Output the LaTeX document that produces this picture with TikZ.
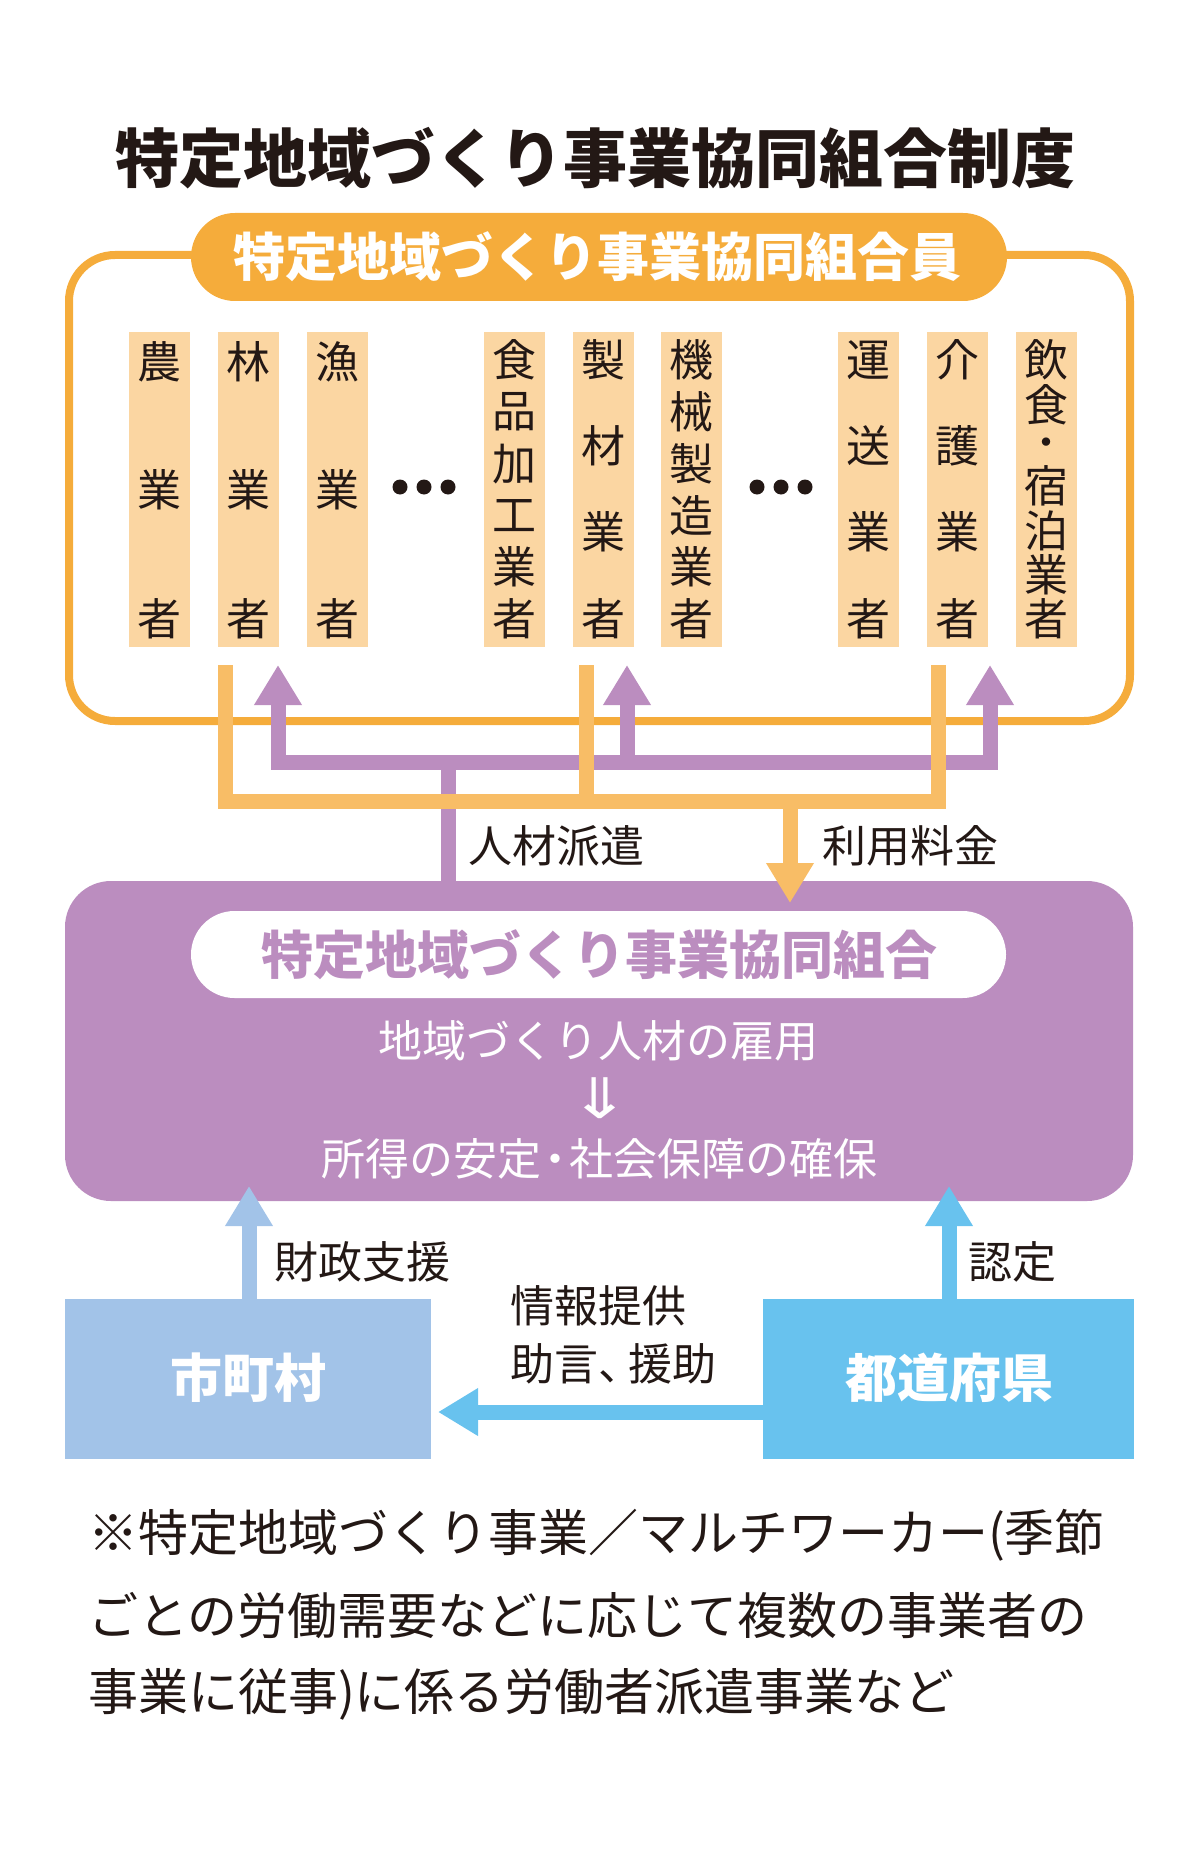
\documentclass[tikz,border=0pt]{standalone}
\usepackage{fontspec}
\setmainfont{Noto Sans CJK JP}
\newfontfamily\symfont{DejaVu Sans}
\usetikzlibrary{arrows.meta}
\definecolor{frameorange}{HTML}{F5AC3B}
\definecolor{pale}{HTML}{FBD6A2}
\definecolor{arroworange}{HTML}{F8BD66}
\definecolor{purp}{HTML}{BB8DBF}
\definecolor{lightblue}{HTML}{A2C3E8}
\definecolor{skyblue}{HTML}{68C2EE}
\definecolor{ink}{HTML}{231815}
\newcommand\fs[1]{\fontsize{#1pt}{#1pt}\selectfont}
\begin{document}
\begin{tikzpicture}[x=1pt,y=-1pt,
  every node/.style={inner sep=0pt,outer sep=0pt},
  colbox/.style={rectangle,fill=pale,minimum width=61pt,minimum height=315pt},
  coltext/.style={font=\fs{44},text=ink},
  lbl/.style={font=\fs{44},text=ink},
  boxtext/.style={font=\fs{44},text=white},
  flow/.style={line width=15pt,line cap=butt,line join=miter},
  tipup/.style={-{Triangle[width=45pt,length=40pt]}},
  dot/.style={circle,fill=ink,minimum size=15pt}
]
\useasboundingbox (0,0) rectangle (1200,1859);

% title
\node[font=\bfseries\fs{64},text=ink] (title) at (595,158) {特定地域づくり事業協同組合制度};

% members frame
\draw[frameorange,line width=8pt,rounded corners=46pt] (69,255) rectangle (1130,721);
\node[fill=frameorange,rounded corners=44pt,minimum width=816pt,minimum height=88pt] (memberpill) at (599,257) {};
\node[font=\bfseries\fs{52},text=white] (membertitle) at (597,257) {特定地域づくり事業協同組合員};

% columns
\node[colbox] (c0) at (159.5,489.5) {};
\node[colbox] (c1) at (248.5,489.5) {};
\node[colbox] (c2) at (337,489.5) {};
\node[colbox] (c4) at (514,489.5) {};
\node[colbox] (c5) at (603,489.5) {};
\node[colbox] (c6) at (691,489.5) {};
\node[colbox] (c8) at (868.5,489.5) {};
\node[colbox] (c9) at (957,489.5) {};
\node[colbox] (c10) at (1046,489.5) {};

\foreach \c/\y in {農/362,業/490,者/619} \node[coltext] at (159.5,\y) {\c};
\foreach \c/\y in {林/362,業/490,者/619} \node[coltext] at (248.5,\y) {\c};
\foreach \c/\y in {漁/362,業/490,者/619} \node[coltext] at (337,\y) {\c};
\foreach \c/\y in {食/360,品/412,加/464,工/516,業/567,者/619} \node[coltext] at (514,\y) {\c};
\foreach \c/\y in {製/360,材/446,業/532,者/619} \node[coltext] at (603,\y) {\c};
\foreach \c/\y in {機/360,械/412,製/464,造/516,業/567,者/619} \node[coltext] at (691,\y) {\c};
\foreach \c/\y in {運/360,送/446,業/532,者/619} \node[coltext] at (868.5,\y) {\c};
\foreach \c/\y in {介/360,護/446,業/532,者/619} \node[coltext] at (957,\y) {\c};
\foreach \c/\y in {飲/360,食/405,宿/486,泊/530.5,業/574.75,者/619} \node[coltext] at (1046,\y) {\c};
\node[font=\bfseries\fs{30},text=ink] (midot) at (1046,446) {・};

\node[dot] (d1) at (400,487) {};
\node[dot] (d2) at (424,487) {};
\node[dot] (d3) at (448,487) {};
\node[dot] (d4) at (757,487) {};
\node[dot] (d5) at (781,487) {};
\node[dot] (d6) at (805,487) {};

% cooperative box
\node[fill=purp,rounded corners=46pt,minimum width=1068pt,minimum height=320pt] (coop) at (599,1041) {};
\node[fill=white,rounded corners=43.5pt,minimum width=815pt,minimum height=87pt] (cooppill) at (598.5,954.5) {};
\node[font=\bfseries\fs{52},text=purp] (cooptitle) at (599.5,955) {特定地域づくり事業協同組合};
\node[boxtext] (l1) at (598.5,1041) {地域づくり人材の雇用};
\node[text=white,font=\symfont\fs{56}] (l2) at (599.5,1098) {\scalebox{1.3}[1]{⇓}};
\node[boxtext] (l3) at (599,1159) {所得の安定\kern-8pt・\kern-8pt 社会保障の確保};

% purple flows (dispatch)
\coordinate (pL) at (278,665);
\coordinate (pM) at (627,665);
\coordinate (pR) at (990,665);
\draw[purp,flow,{Triangle[width=45pt,length=40pt]}-{Triangle[width=45pt,length=40pt]}] (pL) -- (278,762) -- (990,762) -- (pR);
\draw[purp,flow,tipup] (627,762) -- (pM);
\draw[purp,flow] (448,762) -- (coop.north -| 448,0);

% orange flows (fees)
\coordinate (oL) at (225,665);
\coordinate (oM) at (586,665);
\coordinate (oR) at (938,665);
\draw[arroworange,flow] (oL) -- (225,801) -- (938,801) -- (oR);
\draw[arroworange,flow] (oM) -- (586,801);
\coordinate (oTip) at (790,903);
\draw[arroworange,flow,tipup] (790,801) -- (oTip);

\node[lbl] (dispatch) at (556,846) {人材派遣};
\node[lbl] (fee) at (910,846) {利用料金};

% municipalities & prefectures
\node[fill=lightblue,minimum width=366pt,minimum height=160pt] (city) at (248,1379) {};
\node[font=\bfseries\fs{52},text=white] (citytext) at (248,1378) {市町村};
\node[fill=skyblue,minimum width=371pt,minimum height=160pt] (pref) at (948.5,1379) {};
\node[font=\bfseries\fs{52},text=white] (preftext) at (949.5,1378) {都道府県};

\coordinate (cityTip) at (249,1186);
\coordinate (prefTip) at (949,1186);
\draw[lightblue,flow,tipup] (city.north -| cityTip) -- (cityTip);
\draw[skyblue,flow,tipup] (pref.north -| prefTip) -- (prefTip);
\coordinate (infoTip) at (438,1412);
\draw[skyblue,flow,tipup] (pref.west |- infoTip) -- (infoTip);

\node[lbl] (fin) at (362,1262) {財政支援};
\node[lbl] (cert) at (1012,1262) {認定};
\node[lbl,anchor=west] (info1) at (510,1306) {情報提供};
\node[lbl,anchor=west] (info2) at (510,1364) {助言、\kern-14pt 援助};

% footnote
\node[font=\fs{50},text=ink,anchor=west] (n1) at (88,1535) {※特定地域づくり事業／マルチワーカー(季節};
\node[font=\fs{50},text=ink,anchor=west] (n2) at (88,1616) {ごとの労働需要などに応じて複数の事業者の};
\node[font=\fs{50},text=ink,anchor=west] (n3) at (88,1694) {事業に従事)に係る労働者派遣事業など};
\end{tikzpicture}
\end{document}
